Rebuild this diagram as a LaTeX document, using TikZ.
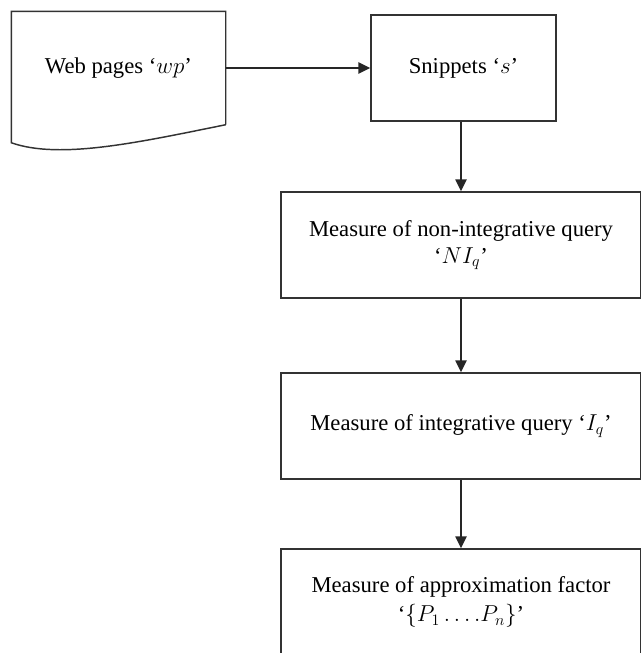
\documentclass[tikz,border=0pt]{standalone}
\usepackage{fontspec}
\setmainfont{Liberation Serif}
\usetikzlibrary{arrows.meta,calc}
\begin{document}
\begin{tikzpicture}[x=0.75pt,y=-0.75pt,
  line width=1.1pt,
  every node/.style={font=\fontsize{17}{21}\selectfont, align=center, inner sep=0pt},
  boxnode/.style={draw=black!80, minimum height=79.5pt},
  arr/.style={draw=black!85, -{Triangle[length=9pt,width=8.5pt]}}]
\useasboundingbox (0,0) rectangle (640,653);
% web pages document shape
\node[minimum width=159.75pt, minimum height=84pt] (wp) at (118.5,68) {Web pages ‘$wp$’};
\draw[black!80] (wp.south east) -- (wp.north east) -- (wp.north west) -- ($(wp.south west)+(0,18)$)
  .. controls (60,160) and (140,142) .. (wp.south east);
\node[boxnode, minimum width=138.75pt] (s) at (463.5,68) {Snippets ‘$s$’};
\node[boxnode, minimum width=270pt] (ni) at (461,245) {Measure of non-integrative query\\[-1pt]‘$NI_q$’};
\node[boxnode, minimum width=270pt] (iq) at (461,426) {Measure of integrative query ‘$I_q$’};
\node[boxnode, minimum width=270pt] (pf) at (461,602) {Measure of approximation factor\\[1pt]‘$\{P_1\ldots.P_n\}$’};
\draw[arr] (wp.east) -- (s.west);
\draw[arr] (ni.north |- s.south) -- (ni.north);
\draw[arr] (ni.south) -- (iq.north);
\draw[arr] (iq.south) -- (pf.north);
\end{tikzpicture}
\end{document}
